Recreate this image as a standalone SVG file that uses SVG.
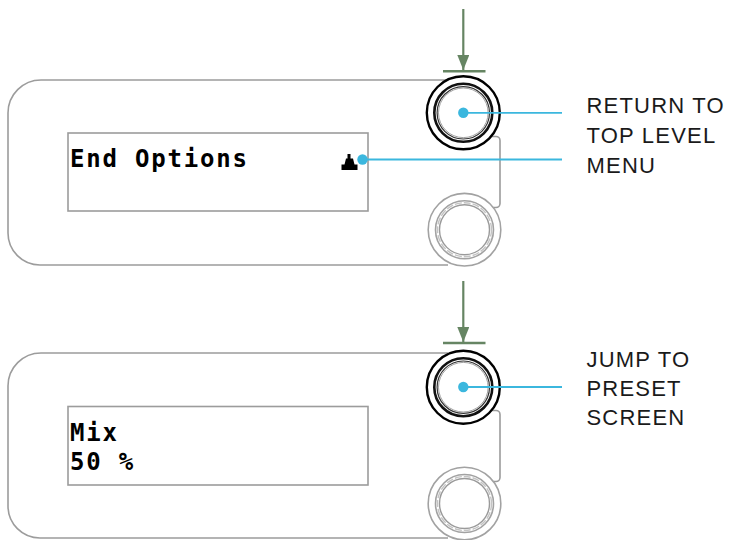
<svg xmlns="http://www.w3.org/2000/svg" width="729" height="540" viewBox="0 0 729 540">
  <style>
    .body { fill: none; stroke: #9c9c9c; stroke-width: 1.6; }
    .display { fill: #ffffff; stroke: #9c9c9c; stroke-width: 1.6; }
    .k-outer { fill: #ffffff; stroke: #000000; stroke-width: 2.4; }
    .k-ring1 { fill: none; stroke: #111111; stroke-width: 2.6; }
    .k-ring2 { fill: none; stroke: #333333; stroke-width: 1.2; }
    .k-ring3 { fill: none; stroke: #8a8a8a; stroke-width: 0.8; }
    .g-outer { fill: #ffffff; stroke: #a2a2a2; stroke-width: 1.6; }
    .g-ring1 { fill: none; stroke: #a2a2a2; stroke-width: 1.6; }
    .g-ring2 { fill: none; stroke: #c4c4c4; stroke-width: 1.4; stroke-dasharray: 7 2; }
    .g-ring3 { fill: none; stroke: #9a9a9a; stroke-width: 1.4; }
    .lcd { font-family: "DejaVu Sans Mono", "Liberation Mono", monospace; font-weight: bold; font-size: 24px; letter-spacing: 1.8px; fill: #000000; }
    .label { font-family: "Liberation Sans", Arial, sans-serif; font-size: 22px; letter-spacing: 1.2px; fill: #1a1a1a; }
    .press { stroke: #668563; stroke-width: 2.2; fill: none; }
    .bar { stroke: #668563; stroke-width: 2.6; }
    .lead { stroke: #3bb7de; stroke-width: 1.8; fill: none; }
  </style>
  <defs>
    <marker id="arrowhead" viewBox="0 0 15 12" refX="15" refY="6" markerWidth="15" markerHeight="12" orient="auto" markerUnits="userSpaceOnUse">
      <path d="M0,0 L15,6 L0,12 Z" fill="#668563"/>
    </marker>
    <marker id="dot" viewBox="-6 -6 12 12" refX="0" refY="0" markerWidth="12" markerHeight="12" orient="auto" markerUnits="userSpaceOnUse">
      <circle cx="0" cy="0" r="5.2" fill="#3bb7de"/>
    </marker>
    <g id="knob-active">
      <circle class="k-outer" cx="0" cy="0" r="36.5"/>
      <circle class="k-ring1" cx="0" cy="0" r="29"/>
      <circle class="k-ring2" cx="0" cy="0" r="26.2"/>
      <circle class="k-ring3" cx="0" cy="0" r="24.8"/>
    </g>
    <g id="knob-idle">
      <circle class="g-outer" cx="0" cy="0" r="36.3"/>
      <circle class="g-ring1" cx="0" cy="0" r="29"/>
      <circle class="g-ring2" cx="0" cy="0" r="27"/>
      <circle class="g-ring3" cx="0" cy="0" r="25"/>
    </g>
  </defs>

  <g id="panel-top">
    <path class="body" d="M448,80 H41 A33,33 0 0 0 8,113 V233 A32,32 0 0 0 40,265 H448"/>
    <path class="body" d="M490,136.5 H496 A4,4 0 0 1 500,140.5 V203.5 A4,4 0 0 1 496,207.5 H490"/>
    <rect class="display" x="68" y="133" width="300" height="78"/>
    <text class="lcd" x="70" y="167">End Options</text>
    <path d="M347.5,154 H350.5 V158.5 H353 L354.5,164.5 H357.5 V170 H341.5 V164.5 H344.5 L346,158.5 H347.5 Z" fill="#000000"/>
    <use href="#knob-active" x="463.3" y="112.8"/>
    <use href="#knob-idle" x="464.5" y="229.7"/>
  </g>

  <g id="panel-bottom">
    <path class="body" d="M448,353 H41 A33,33 0 0 0 8,386 V506 A32,32 0 0 0 40,538 H448"/>
    <path class="body" d="M490,410.5 H496 A4,4 0 0 1 500,414.5 V477.5 A4,4 0 0 1 496,481.5 H490"/>
    <rect class="display" x="68" y="406.5" width="300" height="78.5"/>
    <text class="lcd" x="70" y="440.7">Mix</text>
    <text class="lcd" x="70" y="470">50 %</text>
    <use href="#knob-active" x="463.3" y="387.2"/>
    <use href="#knob-idle" x="464.5" y="503.5"/>
  </g>

  <g id="label-return">
    <text class="label" x="586.5" y="113.3">RETURN TO</text>
    <text class="label" x="586.5" y="143.2">TOP LEVEL</text>
    <text class="label" x="586.5" y="172.8">MENU</text>
  </g>

  <g id="label-jump">
    <text class="label" x="586.5" y="366.8">JUMP TO</text>
    <text class="label" x="586.5" y="396">PRESET</text>
    <text class="label" x="586.5" y="424.5">SCREEN</text>
  </g>

  <g id="connectors">
    <line class="press" x1="463.3" y1="9" x2="463.3" y2="70" marker-end="url(#arrowhead)"/>
    <line class="bar" x1="443" y1="71.2" x2="485.5" y2="71.2"/>
    <line class="press" x1="463.3" y1="281" x2="463.3" y2="342" marker-end="url(#arrowhead)"/>
    <line class="bar" x1="443" y1="343" x2="485.5" y2="343"/>
    <line class="lead" x1="463.3" y1="112.8" x2="562" y2="112.8" marker-start="url(#dot)"/>
    <line class="lead" x1="362.5" y1="159.5" x2="562" y2="159.5" marker-start="url(#dot)"/>
    <line class="lead" x1="463.3" y1="387" x2="562" y2="387" marker-start="url(#dot)"/>
  </g>
</svg>
